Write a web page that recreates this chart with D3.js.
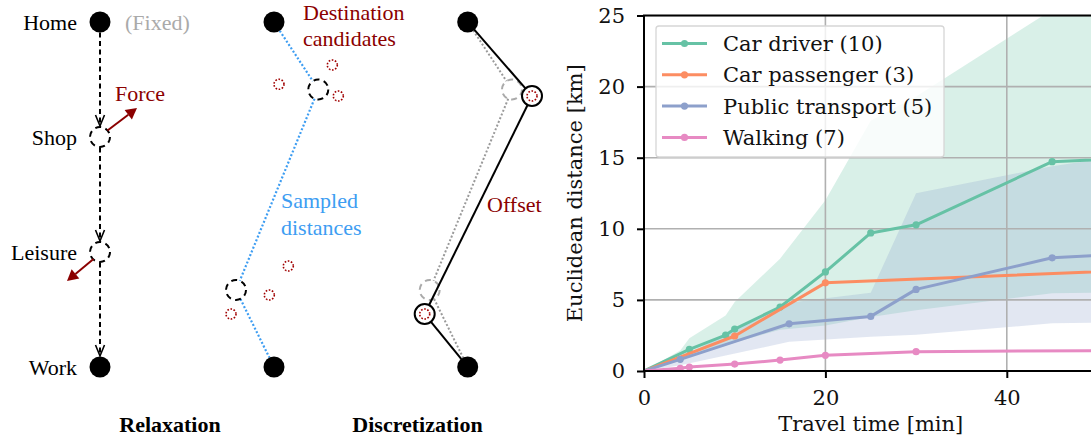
<!DOCTYPE html>
<html>
<head>
<meta charset="utf-8">
<script src="https://cdn.jsdelivr.net/npm/d3@7"></script>
<style>
  html, body { margin: 0; padding: 0; background: #fff; }
  svg { display: block; }
</style>
</head>
<body>
<svg id="fig" width="1091" height="445"></svg>
<script>
// ---------------- DATA (right chart) ----------------
const seriesNames = ["Car driver (10)", "Car passenger (3)", "Public transport (5)", "Walking (7)"];
const seriesColors = ["#66c2a5", "#fc8d62", "#8da0cb", "#e78ac3"];

const driverTime = [0, 5, 9, 10, 15, 20, 25, 30, 45, 60];
const driverDist = [0, 1.52, 2.53, 2.95, 4.5, 6.97, 9.71, 10.28, 14.72, 15.15];

const passengerTime = [0, 10, 20, 60];
const passengerDist = [0, 2.46, 6.2, 7.25];

const transitTime = [0, 4, 16, 25, 30, 45, 60];
const transitDist = [0, 0.82, 3.32, 3.84, 5.74, 7.96, 8.46];

const walkTime = [0, 4, 5, 10, 15, 20, 30, 60];
const walkDist = [0, 0.19, 0.28, 0.49, 0.77, 1.1, 1.36, 1.47];

// spread bands (low / high)
const driverBandTime = [0, 4, 5, 9, 10, 15, 20, 25, 30, 45, 60];
const driverBandLow  = [0, 0.8, 1.0, 1.8, 2.0, 2.9, 3.2, 3.8, 4.28, 5.46, 5.6];
const driverBandHigh = [0, 1.45, 2.3, 3.9, 4.85, 7.9, 12.0, 17.6, 19.3, 25.4, 27.5];

const transitBandTime = [0, 4, 16, 25, 30, 45, 60];
const transitBandLow  = [0, 0.4, 2.05, 2.4, 2.55, 3.35, 3.5];
const transitBandHigh = [0, 0.95, 4.8, 5.5, 12.5, 14.4, 15.8];

const xTicks = [0, 20, 40];
const yTicks = [0, 5, 10, 15, 20, 25];
const xLabel = "Travel time [min]";
const yLabel = "Euclidean distance [km]";

// ---------------- DIAGRAM TEXT ----------------
const stopNames = ["Home", "Shop", "Leisure", "Work"];
const panelTitles = ["Relaxation", "Discretization"];

const svg = d3.select("#fig");

// ================= RIGHT CHART =================
const x = d3.scaleLinear().domain([0, 50]).range([644, 1097.5]);
const y = d3.scaleLinear().domain([0, 25]).range([371, 15.5]);
const FONT_R = "DejaVu Serif";

svg.append("defs").append("clipPath").attr("id", "plotclip")
  .append("rect").attr("x", x(0)).attr("y", y(25))
  .attr("width", x(50) - x(0)).attr("height", y(0) - y(25));

const plot = svg.append("g").attr("clip-path", "url(#plotclip)");

// bands
function band(ts, lo, hi) { return ts.map((t, i) => ({ t, lo: lo[i], hi: hi[i] })); }
const area = d3.area().x(d => x(d.t)).y0(d => y(d.lo)).y1(d => y(d.hi));
plot.append("path").datum(band(driverBandTime, driverBandLow, driverBandHigh))
  .attr("d", area).attr("fill", seriesColors[0]).attr("fill-opacity", 0.25);
plot.append("path").datum(band(transitBandTime, transitBandLow, transitBandHigh))
  .attr("d", area).attr("fill", seriesColors[2]).attr("fill-opacity", 0.25);

// grid
plot.selectAll("line.vg").data(xTicks).join("line")
  .attr("x1", d => x(d)).attr("x2", d => x(d)).attr("y1", y(0)).attr("y2", y(25))
  .attr("stroke", "#b0b0b0").attr("stroke-width", 1.6);
plot.selectAll("line.hg").data(yTicks).join("line")
  .attr("x1", x(0)).attr("x2", x(50)).attr("y1", d => y(d)).attr("y2", d => y(d))
  .attr("stroke", "#b0b0b0").attr("stroke-width", 1.6);

// lines
const allSeries = [
  [driverTime, driverDist], [passengerTime, passengerDist],
  [transitTime, transitDist], [walkTime, walkDist]
];
const line = d3.line().x(d => x(d.t)).y(d => y(d.v));
allSeries.forEach(([ts, vs], i) => {
  const pts = ts.map((t, k) => ({ t, v: vs[k] }));
  plot.append("path").datum(pts).attr("d", line)
    .attr("fill", "none").attr("stroke", seriesColors[i]).attr("stroke-width", 3)
    .attr("stroke-linejoin", "round");
  plot.selectAll(null).data(pts.filter(p => p.t > 0)).join("circle")
    .attr("cx", d => x(d.t)).attr("cy", d => y(d.v)).attr("r", 3.6)
    .attr("fill", seriesColors[i]);
});

// legend
const lg = svg.append("g");
lg.append("rect").attr("x", 656).attr("y", 26).attr("width", 288).attr("height", 131)
  .attr("rx", 3).attr("fill", "#fff").attr("fill-opacity", 0.8)
  .attr("stroke", "#d6d6d6").attr("stroke-width", 1.3);
seriesNames.forEach((name, i) => {
  const cy = 43.5 + i * 31.3;
  lg.append("line").attr("x1", 662).attr("x2", 707).attr("y1", cy).attr("y2", cy)
    .attr("stroke", seriesColors[i]).attr("stroke-width", 3);
  lg.append("circle").attr("cx", 684.5).attr("cy", cy).attr("r", 3.6).attr("fill", seriesColors[i]);
  lg.append("text").attr("x", 723).attr("y", cy).attr("dy", "0.36em")
    .attr("font-family", FONT_R).attr("font-size", 21).attr("fill", "#111").text(name);
});

// axes
const yAxis = svg.append("g").attr("transform", `translate(${x(0)},0)`)
  .call(d3.axisLeft(y).tickValues(yTicks).tickSize(7).tickPadding(12));
const xAxis = svg.append("g").attr("transform", `translate(0,${y(0)})`)
  .call(d3.axisBottom(x).tickValues(xTicks).tickSize(7).tickPadding(12));
[yAxis, xAxis].forEach(a => {
  a.select(".domain").remove();
  a.selectAll(".tick line").attr("stroke", "#000").attr("stroke-width", 2);
  a.selectAll(".tick text").attr("font-family", FONT_R).attr("font-size", 21).attr("fill", "#111");
});

// spines
svg.append("rect").attr("x", x(0)).attr("y", y(25))
  .attr("width", x(50) - x(0)).attr("height", y(0) - y(25))
  .attr("fill", "none").attr("stroke", "#000").attr("stroke-width", 2);

svg.append("text").attr("x", (x(0) + x(50)) / 2).attr("y", 431)
  .attr("text-anchor", "middle").attr("font-family", FONT_R).attr("font-size", 21)
  .attr("fill", "#111").text(xLabel);
svg.append("text").attr("transform", `translate(582,${(y(0) + y(25)) / 2}) rotate(-90)`)
  .attr("text-anchor", "middle").attr("font-family", FONT_R).attr("font-size", 21)
  .attr("fill", "#111").text(yLabel);

// ================= LEFT DIAGRAM =================
const FONT_L = "Liberation Serif";
const DR = "#8b0000";
const BLUE = "#3d9df2";
const dg = svg.append("g");
const rowY = d3.scaleLinear().domain([0, 3]).range([22, 367]);
const colX = [100, 274, 467.7];

function dashedCircle(cx, cy, color) {
  dg.append("circle").attr("cx", cx).attr("cy", cy).attr("r", 10)
    .attr("fill", "none").attr("stroke", color).attr("stroke-width", 2)
    .attr("stroke-dasharray", "6,4.5");
}
function dot(cx, cy) {
  dg.append("circle").attr("cx", cx).attr("cy", cy).attr("r", 10.5).attr("fill", "#000");
}
function candidate(cx, cy) {
  dg.append("circle").attr("cx", cx).attr("cy", cy).attr("r", 5)
    .attr("fill", "none").attr("stroke", "#a00000").attr("stroke-width", 1.6)
    .attr("stroke-dasharray", "1.6,1.6");
}
function label(txt, xx, yy, opts = {}) {
  dg.append("text").attr("x", xx).attr("y", yy)
    .attr("font-family", FONT_L).attr("font-size", opts.size || 22)
    .attr("text-anchor", opts.anchor || "start")
    .attr("font-weight", opts.bold ? "bold" : "normal")
    .attr("fill", opts.color || "#000").text(txt);
}
function seg(x1, y1, x2, y2, color, width, dash) {
  const l = dg.append("line").attr("x1", x1).attr("y1", y1).attr("x2", x2).attr("y2", y2)
    .attr("stroke", color).attr("stroke-width", width);
  if (dash) l.attr("stroke-dasharray", dash);
}
function filledArrow(x1, y1, x2, y2, color) {
  const ang = Math.atan2(y2 - y1, x2 - x1);
  const hl = 11, hw = 6;
  const bx = x2 - hl * Math.cos(ang), by = y2 - hl * Math.sin(ang);
  seg(x1, y1, bx, by, color, 2);
  const px = -Math.sin(ang) * hw, py = Math.cos(ang) * hw;
  dg.append("path").attr("d", `M${x2},${y2}L${bx + px},${by + py}L${bx - px},${by - py}Z`)
    .attr("fill", color);
}

// --- Column 1: Relaxation ---
const c1 = colX[0];
[[0, 1], [1, 2], [2, 3]].forEach(([a, b]) => {
  const ya = rowY(a) + 10.5, yb = rowY(b) - 11;
  seg(c1, ya, c1, yb, "#000", 2, "5,3.5");
  dg.append("path").attr("d", `M${c1 - 4.5},${yb - 11}L${c1},${yb}L${c1 + 4.5},${yb - 11}`)
    .attr("fill", "none").attr("stroke", "#000").attr("stroke-width", 1.6);
});
dot(c1, rowY(0));
dot(c1, rowY(3));
dashedCircle(c1, rowY(1), "#000");
dashedCircle(c1, rowY(2), "#000");
stopNames.forEach((n, i) => label(n, 77, rowY(i) + 8, { anchor: "end" }));
label("(Fixed)", 125, 30, { color: "#aaaaaa" });
filledArrow(107.5, 130.5, 137, 108, DR);
label("Force", 115, 101, { color: DR });
filledArrow(93.5, 259, 67, 281, DR);
label(panelTitles[0], 170, 432, { anchor: "middle", bold: true });

// --- Column 2: sampled distances ---
const c2 = colX[1];
const relaxed = [[44.3, 89.5], [-38, 290]];      // relaxed activity locations (offsets)
const cands = [[58.3, 65], [5, 84.3], [64.3, 96], [14.3, 266], [-4.7, 295], [-43, 314]];
const chosen = [2, 5];
const path2 = [[0, rowY(0)], relaxed[0], relaxed[1], [0, rowY(3)]];
for (let i = 0; i < 3; i++) {
  const [ax, ay] = path2[i], [bx, by] = path2[i + 1];
  const ang = Math.atan2(by - ay, bx - ax);
  const ra = i === 0 ? 10.5 : 10, rb = i === 2 ? 10.5 : 10;
  seg(c2 + ax + ra * Math.cos(ang), ay + ra * Math.sin(ang),
      c2 + bx - rb * Math.cos(ang), by - rb * Math.sin(ang), BLUE, 2.2, "2,2");
}
dot(c2, rowY(0));
dot(c2, rowY(3));
relaxed.forEach(([dx, yy]) => dashedCircle(c2 + dx, yy, "#000"));
cands.forEach(([dx, yy]) => candidate(c2 + dx, yy));
label("Destination", 303, 20, { color: DR });
label("candidates", 303, 45.5, { color: DR });
label("Sampled", 281, 208, { color: BLUE });
label("distances", 281, 235, { color: BLUE });

// --- Column 3: discretization ---
const c3 = colX[2];
for (let i = 0; i < 3; i++) {
  const [ax, ay] = path2[i], [bx, by] = path2[i + 1];
  const ang = Math.atan2(by - ay, bx - ax);
  seg(c3 + ax + 10 * Math.cos(ang), ay + 10 * Math.sin(ang),
      c3 + bx - 10 * Math.cos(ang), by - 10 * Math.sin(ang), "#9a9a9a", 2, "2,2");
}
relaxed.forEach(([dx, yy]) => dashedCircle(c3 + dx, yy, "#aaaaaa"));
const path3 = [[0, rowY(0)], cands[chosen[0]], cands[chosen[1]], [0, rowY(3)]];
for (let i = 0; i < 3; i++) {
  const [ax, ay] = path3[i], [bx, by] = path3[i + 1];
  const ang = Math.atan2(by - ay, bx - ax);
  seg(c3 + ax + 10 * Math.cos(ang), ay + 10 * Math.sin(ang),
      c3 + bx - 10 * Math.cos(ang), by - 10 * Math.sin(ang), "#000", 2);
}
dot(c3, rowY(0));
dot(c3, rowY(3));
chosen.forEach(k => {
  const [dx, yy] = cands[k];
  dg.append("circle").attr("cx", c3 + dx).attr("cy", yy).attr("r", 10)
    .attr("fill", "#fff").attr("stroke", "#000").attr("stroke-width", 2);
  candidate(c3 + dx, yy);
});
label("Offset", 487, 212, { color: DR });
label(panelTitles[1], 417.5, 432, { anchor: "middle", bold: true });
</script>
</body>
</html>
